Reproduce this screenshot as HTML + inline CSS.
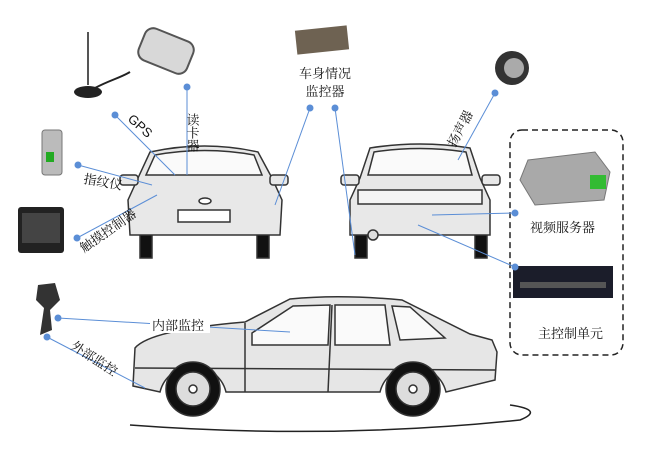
<!DOCTYPE html>
<html><head><meta charset="utf-8"><style>
html,body{margin:0;padding:0;background:#fff}
svg{display:block}
text{font-family:"Liberation Serif","Noto Serif CJK SC",serif;font-size:13px;fill:#111}
</style></head><body>
<svg width="650" height="463" viewBox="0 0 650 463" xmlns="http://www.w3.org/2000/svg">
<!-- devices -->
<line x1="88" y1="32" x2="88" y2="85" stroke="#555" stroke-width="2"/>
<ellipse cx="88" cy="92" rx="14" ry="6" fill="#222"/>
<path d="M95,88 C110,80 120,78 130,72" stroke="#222" stroke-width="2" fill="none"/>
<rect x="140" y="34" width="52" height="34" rx="9" fill="#d8d8d8" stroke="#555" stroke-width="2" transform="rotate(22 166 51)"/>
<rect x="42" y="130" width="20" height="45" rx="3" fill="#bbb" stroke="#777"/>
<rect x="46" y="152" width="8" height="10" fill="#2a2"/>
<rect x="18" y="207" width="46" height="46" rx="3" fill="#222"/>
<rect x="22" y="213" width="38" height="30" fill="#444"/>
<rect x="296" y="28" width="52" height="24" fill="#6e6252" transform="rotate(-6 322 40)"/>
<circle cx="512" cy="68" r="17" fill="#333"/>
<circle cx="514" cy="68" r="10" fill="#aaa"/>
<path d="M528,160 L595,152 L610,172 L604,200 L535,205 L520,180 Z" fill="#a9a9a9" stroke="#777"/>
<rect x="590" y="175" width="16" height="14" fill="#3b3"/>
<rect x="513" y="266" width="100" height="32" fill="#1b1d2a"/>
<rect x="520" y="282" width="86" height="6" fill="#555"/>
<path d="M38,285 L55,283 L60,300 L50,310 L52,330 L40,335 L44,308 L36,300 Z" fill="#333"/>
<rect x="510" y="130" width="113" height="225" rx="12" fill="none" stroke="#222" stroke-width="1.5" stroke-dasharray="6,4"/>

<!-- front car -->
<g stroke="#333" stroke-width="1.5" fill="#e8e8e8">
<rect x="140" y="228" width="12" height="30" fill="#111"/>
<rect x="257" y="228" width="12" height="30" fill="#111"/>
<path d="M150,152 Q205,140 258,152 L272,178 L282,200 L280,235 L130,235 L128,200 L138,178 Z"/>
<path d="M155,155 Q205,146 254,155 L262,175 L146,175 Z" fill="#fafafa"/>
<rect x="120" y="175" width="18" height="10" rx="3"/>
<rect x="270" y="175" width="18" height="10" rx="3"/>
<rect x="178" y="210" width="52" height="12" fill="#fff"/>
<ellipse cx="205" cy="201" rx="6" ry="3" fill="#fff"/>
</g>
<!-- rear car -->
<g stroke="#333" stroke-width="1.5" fill="#e8e8e8">
<rect x="355" y="228" width="12" height="30" fill="#111"/>
<rect x="475" y="228" width="12" height="30" fill="#111"/>
<path d="M370,148 Q420,140 470,148 L480,178 L490,200 L490,235 L350,235 L350,200 L360,178 Z"/>
<path d="M374,152 Q420,145 466,152 L472,175 L368,175 Z" fill="#fafafa"/>
<rect x="341" y="175" width="18" height="10" rx="3"/>
<rect x="482" y="175" width="18" height="10" rx="3"/>
<rect x="358" y="190" width="124" height="14" fill="#f4f4f4"/>
<circle cx="373" cy="235" r="5" fill="#ddd"/>
</g>
<!-- side car -->
<g stroke="#333" stroke-width="1.5" fill="#e6e6e6">
<path d="M133,386 L135,348 Q150,330 245,322 L290,299 Q340,294 402,300 L470,334 L492,340 L497,352 L495,380 L446,392 A34,34 0 0 0 380,392 L226,392 A34,34 0 0 0 160,392 Z"/>
<path d="M252,333 L293,306 L330,305 L328,345 L252,345 Z" fill="#fafafa"/>
<path d="M335,305 L385,305 L390,345 L335,345 Z" fill="#fafafa"/>
<path d="M392,306 L410,307 L445,338 L400,340 Z" fill="#fafafa"/>
<line x1="135" y1="368" x2="495" y2="370"/>
<line x1="245" y1="323" x2="245" y2="392"/>
<line x1="332" y1="305" x2="328" y2="392"/>
<circle cx="193" cy="389" r="27" fill="#111"/>
<circle cx="193" cy="389" r="17" fill="#ddd"/>
<circle cx="413" cy="389" r="27" fill="#111"/>
<circle cx="413" cy="389" r="17" fill="#ddd"/>
<circle cx="193" cy="389" r="4" fill="#fff"/>
<circle cx="413" cy="389" r="4" fill="#fff"/>
</g>
<path d="M130,425 Q330,440 520,420 Q545,410 510,405" stroke="#222" stroke-width="1.5" fill="none"/>

<!-- connectors -->
<g stroke="#5b8ed6" stroke-width="1" fill="none">
<line x1="115" y1="115" x2="175" y2="175"/>
<line x1="187" y1="87" x2="187" y2="175"/>
<line x1="310" y1="108" x2="275" y2="205"/>
<line x1="335" y1="108" x2="355" y2="255"/>
<line x1="78" y1="165" x2="152" y2="185"/>
<line x1="77" y1="238" x2="157" y2="195"/>
<line x1="495" y1="93" x2="458" y2="160"/>
<line x1="515" y1="213" x2="432" y2="215"/>
<line x1="515" y1="267" x2="418" y2="225"/>
<line x1="58" y1="318" x2="290" y2="332"/>
<line x1="47" y1="337" x2="145" y2="388"/>
</g>
<g fill="#5b8ed6">
<circle cx="115" cy="115" r="3.5"/><circle cx="187" cy="87" r="3.5"/>
<circle cx="310" cy="108" r="3.5"/><circle cx="335" cy="108" r="3.5"/>
<circle cx="78" cy="165" r="3.5"/><circle cx="77" cy="238" r="3.5"/>
<circle cx="495" cy="93" r="3.5"/><circle cx="515" cy="213" r="3.5"/>
<circle cx="515" cy="267" r="3.5"/><circle cx="58" cy="318" r="3.5"/>
<circle cx="47" cy="337" r="3.5"/>
</g>

<!-- labels -->
<text x="127" y="120" transform="rotate(42 127 120)" style="font-family:'Liberation Sans',sans-serif">GPS</text>
<text x="192" y="113" style="writing-mode:tb">读卡器</text>
<text x="325" y="78" text-anchor="middle">车身情况</text>
<text x="325" y="96" text-anchor="middle">监控器</text>
<text x="83" y="183" transform="rotate(10 83 183)">指纹仪</text>
<text x="84" y="253" transform="rotate(-35 84 253)">触摸控制器</text>
<text x="455" y="148" transform="rotate(-62 455 148)">扬声器</text>
<text x="530" y="232">视频服务器</text>
<text x="538" y="338">主控制单元</text>
<rect x="150" y="317" width="60" height="16" fill="#fff"/>
<text x="152" y="330">内部监控</text>
<text x="70" y="348" transform="rotate(33 70 348)">外部监控</text>
</svg>
</body></html>
